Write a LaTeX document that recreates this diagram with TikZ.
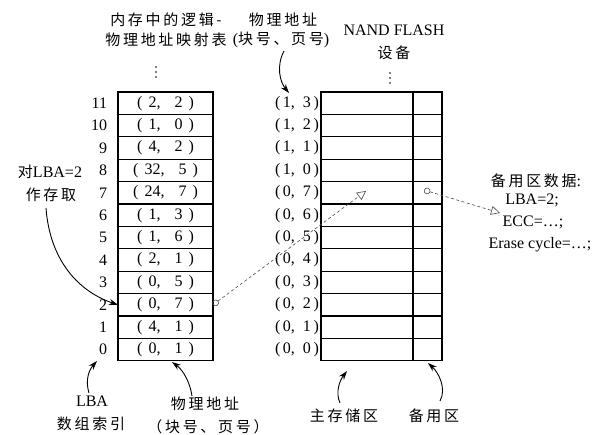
\documentclass[tikz,border=0pt]{standalone}
\usepackage{fontspec}
\setmainfont{Liberation Serif}
\newfontfamily\cjk[LetterSpace=18]{Noto Sans CJK SC}
\usetikzlibrary{arrows.meta}
\newcommand\lat{\fontsize{16}{19}\selectfont}
\newcommand\zh[1]{{\fontsize{15}{18}\selectfont\cjk #1}}
\newcommand\tv[2]{(\hspace{6pt}#1,\hspace{14pt}#2\hspace{6pt})}
\newcommand\av[2]{(\,#1,\ \ #2\,)}
\begin{document}
\begin{tikzpicture}[x=1pt,y=-1pt,
  every node/.style={inner sep=0pt,outer sep=0pt,font=\lat},
  cell/.style={draw,line width=1.1pt,minimum height=22.4pt},
  lcell/.style={cell,minimum width=95pt},
  mcell/.style={cell,minimum width=92pt},
  scell/.style={cell,minimum width=29pt},
  curv/.style={line width=0.9pt,-{Stealth[length=9pt,width=6pt]}},
  vdot/.style={fill,radius=0.9pt},
  dline/.style={gray!60!black,line width=0.6pt,dash pattern=on 3pt off 2.5pt,
    {Circle[open,length=6.5pt,width=6.5pt]}-{Triangle[open,length=9pt,width=9pt]}}]
\useasboundingbox (0,0) rectangle (604,434);
% titles
\node (t1) at (166,20) {\zh{内存中的逻辑-}};
\node (t2) at (166,40) {\zh{物理地址映射表}};
\foreach \yy in {67,72,77}{\fill (156,\yy) circle[radius=0.9pt];}
\node (p1) at (283,20) {\zh{物理地址}};
\node (p2) at (281,40) {(\zh{块号、页号})};
\node (n1) at (394,30) {NAND FLASH};
\node (n2) at (394,53) {\zh{设备}};
\foreach \yy in {73,78,83}{\fill (390,\yy) circle[radius=0.9pt];}
% table
\foreach \n/\a/\b in {11/2/2,10/1/0,9/4/2,8/32/5,7/24/7,6/1/3,5/1/6,4/2/1,3/0/5,2/0/7,1/4/1,0/0/1}{
  \pgfmathsetmacro\yy{92+(11-\n)*22.4+11.2}
  \node[lcell] (L\n) at (165.5,\yy) {\tv{\a}{\b}};
  \node[anchor=east] (I\n) at (107,\yy) {\n};
}
% flash
\foreach \n/\a/\b in {11/1/3,10/1/2,9/1/1,8/1/0,7/0/7,6/0/6,5/0/5,4/0/4,3/0/3,2/0/2,1/0/1,0/0/0}{
  \pgfmathsetmacro\yy{92+(11-\n)*22.4+11.2}
  \node[mcell] (M\n) at (367,\yy) {};
  \node[scell] (S\n) at (427.5,\yy) {};
  \node[anchor=east] (A\n) at (319,\yy) {\av{\a}{\b}};
}
% left label
\node (q1) at (50,172) {\zh{对}LBA=2};
\node (q2) at (51,195) {\zh{作存取}};
% bottom labels
\node (b1) at (92,401) {LBA};
\node (b2) at (91,424) {\zh{数组索引}};
\node (b3) at (205,404) {\zh{物理地址}};
\node (b4) at (208,427) {\zh{（块号、页号）}};
\node (b5) at (344,416) {\zh{主存储区}};
\node (b6) at (434,416) {\zh{备用区}};
% right labels
\node (r1) at (536,181) {\zh{备用区数据}:};
\node (r2) at (532,200) {LBA=2;};
\node (r3) at (533,222) {ECC=…;};
\node (r4) at (540,245) {Erase cycle=…;};
% curved arrows
\draw[curv] (284,51) .. controls (276,66) and (280,82) .. (289,93);
\draw[curv] (46,208) .. controls (50,262) and (80,292) .. (L2.west);
\draw[curv] (89,393) .. controls (85,380) and (89,370) .. (97,361);
\draw[curv] (192,396) .. controls (190,382) and (183,370) .. (172,362);
\draw[curv] (340,403) .. controls (335,392) and (340,380) .. (347,371);
\draw[curv] (440,401) .. controls (447,388) and (438,372) .. (428,363);
% dashed connectors
\coordinate (e1) at (366,191);
\coordinate (c2) at (424,190);
\coordinate (e2) at (500,213);
\draw[dline] (L2.east) -- (e1);
\draw[dline] (c2) -- (e2);
\end{tikzpicture}
\end{document}
